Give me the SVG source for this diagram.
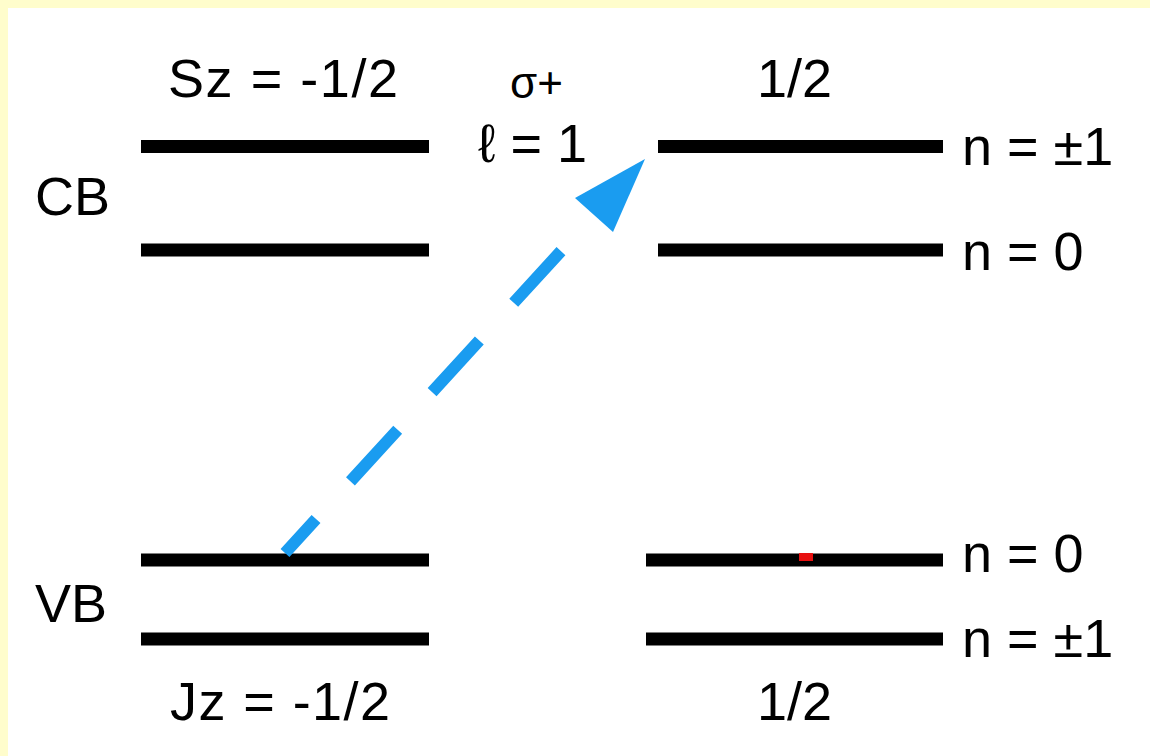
<svg xmlns="http://www.w3.org/2000/svg" width="1150" height="756" viewBox="0 0 1150 756">
<style>
.t{font-family:"Liberation Sans",Arial,sans-serif;font-size:54px;fill:#000}
.lvl{stroke:#000;stroke-width:13;fill:none}
.arr{stroke:#1A9CF0;stroke-width:12;fill:none;stroke-dasharray:70 51;stroke-dashoffset:24}
</style>
<rect x="0" y="0" width="1150" height="756" fill="#FFFDCC"/>
<rect x="8" y="8" width="1142" height="748" fill="#FFFFFF"/>
<g id="labels">
<text class="t" x="168" y="97" textLength="230" lengthAdjust="spacing">Sz = -1/2</text>
<text class="t" x="757" y="97">1/2</text>
<text class="t" x="510" y="98" style="font-size:44px">σ+</text>
<text class="t" x="478" y="162">ℓ = 1</text>
<text class="t" x="35" y="215">CB</text>
<text class="t" x="35" y="622">VB</text>
<text class="t" x="170" y="720" textLength="220" lengthAdjust="spacing">Jz = -1/2</text>
<text class="t" x="757" y="720">1/2</text>
</g>
<g id="cb-left">
<line class="lvl" x1="141" y1="146.5" x2="429" y2="146.5"/>
<line class="lvl" x1="141" y1="250" x2="429" y2="250"/>
</g>
<g id="cb-right">
<line class="lvl" x1="658" y1="146.5" x2="943" y2="146.5"/>
<line class="lvl" x1="658" y1="250" x2="943" y2="250"/>
<text class="t" x="962" y="165">n = ±1</text>
<text class="t" x="962" y="270">n = 0</text>
</g>
<g id="vb-left">
<line class="lvl" x1="141" y1="560" x2="429" y2="560"/>
<line class="lvl" x1="141" y1="639" x2="429" y2="639"/>
</g>
<g id="vb-right">
<line class="lvl" x1="646" y1="560" x2="943" y2="560"/>
<line class="lvl" x1="646" y1="639" x2="943" y2="639"/>
<rect x="799" y="553" width="14" height="8" fill="#E81010"/>
<text class="t" x="962" y="572">n = 0</text>
<text class="t" x="962" y="657">n = ±1</text>
</g>
<g id="connectors">
<line class="arr" x1="285" y1="553" x2="594" y2="215"/>
<polygon points="645,159 575,198 613,232" fill="#1A9CF0"/>
</g>
</svg>
